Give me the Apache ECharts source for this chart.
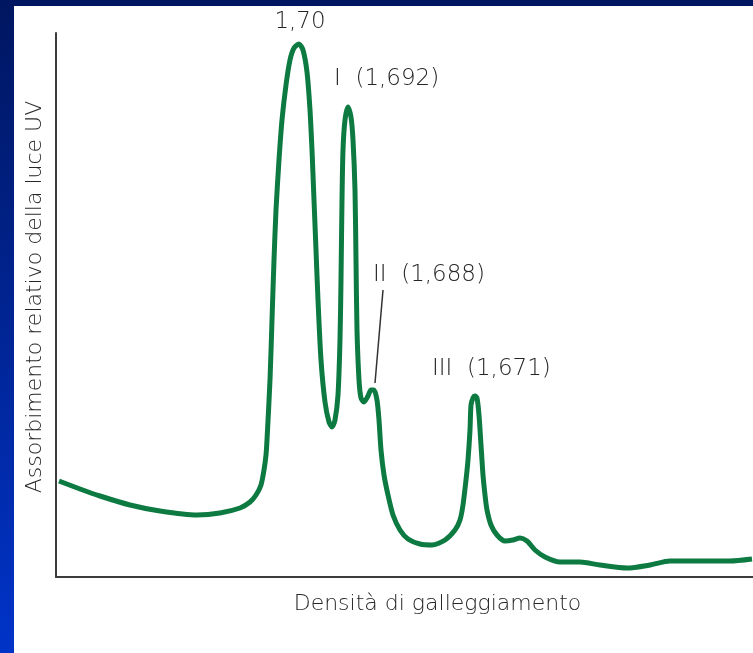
<!DOCTYPE html>
<html>
<head>
<meta charset="utf-8">
<script src="https://cdn.jsdelivr.net/npm/echarts@6/dist/echarts.min.js"></script>
<style>html,body{margin:0;padding:0;background:#fff;}#chart{width:753px;height:653px;}</style>
</head>
<body>
<div id="chart"></div>
<script>
// Density (arbitrary units along the gradient) and relative UV absorbance (arbitrary units)
const density = [3,24,44,74,104,141,164,184,194,200,205,208,210,211,214,216,218,220,223,226,230,234,238,243,247,251,254,256,258,260,262,265,269,273,276,279,282,284,285,286,287,289,292,295,297,299,300,301,303,305,308,312,315,318,321,323,325,328,332,337,344,352,364,376,389,399,404,407,410,412,414,415,417,419,421,423,425,427,429,431,435,441,449,457,464,471,479,489,504,524,544,571,594,614,644,674,696];
const absorbance = [96,88,81,72,66,62,64,69,75,82,92,107,122,137,197,257,317,367,417,457,492,517,529,533,527,505,467,427,377,327,277,217,175,155,150,157,182,237,297,377,427,457,470,460,437,387,317,247,197,179,175,181,187,187,177,157,127,102,82,62,47,38,33,32,37,47,57,72,97,117,147,172,179,181,179,162,132,102,82,67,52,42,36,37,39,36,27,20,15,15,12,9,12,16,16,16,18];
const peakLabels = [
  {text: '1,70', x: 244, y: 555, align: 'center'},
  {text: 'I  (1,692)', x: 278, y: 498, align: 'left'},
  {text: 'II  (1,688)', x: 317, y: 302, align: 'left'},
  {text: 'III  (1,671)', x: 376, y: 208, align: 'left'}
];
const leader = [[327, 287], [319, 194]];
const xTitle = 'Densità di galleggiamento';
const yTitle = 'Assorbimento relativo della luce UV';

const chart = echarts.init(document.getElementById('chart'));
const FONT = 'DejaVu Sans';
const TEXT = '#262626';
const option = {
  backgroundColor: '#ffffff',
  animation: false,
  grid: {left: 56, top: 33, right: 0, bottom: 76},
  xAxis: {
    type: 'value', min: 0, max: 697,
    axisLine: {show: true, onZero: false, lineStyle: {color: '#3c3c3c', width: 2}},
    axisTick: {show: false}, axisLabel: {show: false}, splitLine: {show: false},
    name: xTitle, nameLocation: 'middle', nameGap: 16,
    nameTextStyle: {fontFamily: FONT, fontSize: 22, color: TEXT, fontWeight: 300, padding: [0, 0, 0, 66]}
  },
  yAxis: {
    type: 'value', min: 0, max: 544,
    axisLine: {show: true, lineStyle: {color: '#3c3c3c', width: 2}},
    axisTick: {show: false}, axisLabel: {show: false}, splitLine: {show: false},
    name: yTitle, nameLocation: 'middle', nameGap: 10, nameRotate: 90,
    nameTextStyle: {fontFamily: FONT, fontSize: 22, color: TEXT, fontWeight: 300, padding: [0, 0, 0, 16]}
  },
  series: [{
    type: 'line',
    data: density.map((d, i) => [d, absorbance[i]]),
    smooth: 0.25,
    showSymbol: false,
    lineStyle: {color: '#0d7a42', width: 5},
    z: 3
  }]
};
chart.setOption(option);

const graphics = [
  {type: 'rect', shape: {x: 0, y: 0, width: 753, height: 6}, style: {fill: '#001660'}, z: 10},
  {type: 'rect', shape: {x: 0, y: 0, width: 14, height: 653},
   style: {fill: new echarts.graphic.LinearGradient(0, 0, 0, 1, [{offset: 0, color: '#001660'}, {offset: 1, color: '#0033c8'}])}, z: 10}
];
peakLabels.forEach(l => {
  const p = chart.convertToPixel({gridIndex: 0}, [l.x, l.y]);
  graphics.push({type: 'text', x: p[0], y: p[1], z: 20,
    style: {text: l.text, fontFamily: FONT, fontSize: 23, fontWeight: 300, fill: TEXT, textAlign: l.align, textVerticalAlign: 'middle'}});
});
const a = chart.convertToPixel({gridIndex: 0}, leader[0]);
const b = chart.convertToPixel({gridIndex: 0}, leader[1]);
graphics.push({type: 'line', z: 20, shape: {x1: a[0], y1: a[1], x2: b[0], y2: b[1]}, style: {stroke: '#333', lineWidth: 1.5}});
chart.setOption({graphic: graphics});
</script>
</body>
</html>
